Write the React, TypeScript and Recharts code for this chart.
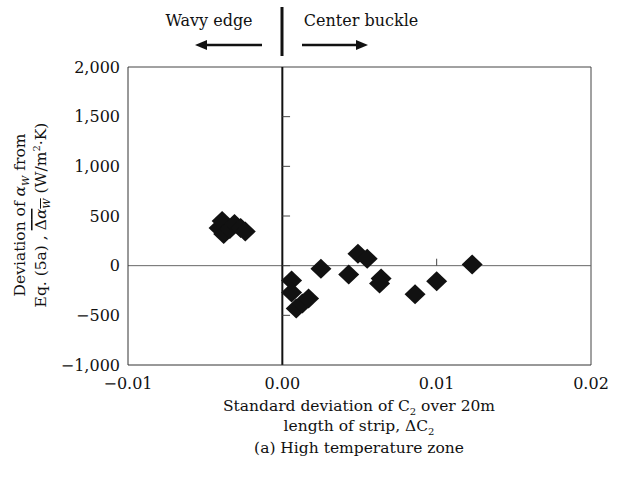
import { ScatterChart, Scatter, XAxis, YAxis, ReferenceLine } from "recharts";

const FONT = "'DejaVu Serif', serif";

const xTicks = [-0.01, 0, 0.01, 0.02];
const yTicks = [-1000, -500, 0, 500, 1000, 1500, 2000];

// wavy edge side (left of zero)
const wavyX = [-0.0041, -0.0039, -0.0038, -0.0034, -0.0031, -0.0027, -0.0024];
const wavyY = [380, 450, 320, 370, 420, 380, 345];

// center buckle side (right of zero)
const centerX = [0.0006, 0.0006, 0.0009, 0.0013, 0.0017, 0.0025, 0.0043, 0.0049, 0.0055, 0.0064, 0.0063, 0.0086, 0.01, 0.0123];
const centerY = [-150, -270, -430, -380, -330, -30, -90, 120, 70, -130, -180, -287, -156, 11];

const points = [
  ...wavyX.map((x, i) => ({ x, y: wavyY[i] })),
  ...centerX.map((x, i) => ({ x, y: centerY[i] })),
];

const fmtX = (v: number) => (v < 0 ? "\u2212" : "") + Math.abs(v).toFixed(2);
const fmtY = (v: number) => (v < 0 ? "\u2212" : "") + Math.abs(v).toLocaleString("en-US");

const Diamond = (props: any) => {
  const { cx, cy } = props;
  return (
    <polygon
      points={`${cx},${cy - 10} ${cx + 10.5},${cy} ${cx},${cy + 10} ${cx - 10.5},${cy}`}
      fill="#111"
    />
  );
};

export default function App() {
  return (
    <div style={{ position: "relative", width: 618, height: 479, background: "#fff", fontFamily: FONT }}>
      <style>{`body{margin:0}`}</style>
      <ScatterChart width={618} height={479} margin={{ top: 67, right: 27, bottom: 84, left: 0 }}>
        <XAxis
          type="number"
          dataKey="x"
          domain={[-0.01, 0.02]}
          ticks={xTicks}
          tickFormatter={fmtX}
          tickLine={false}
          tickMargin={7}
          axisLine={{ stroke: "#333" }}
          tick={{ fontSize: 16, fill: "#111", fontFamily: FONT }}
        />
        <YAxis
          type="number"
          dataKey="y"
          domain={[-1000, 2000]}
          ticks={yTicks}
          tickFormatter={fmtY}
          tickLine={false}
          width={128}
          axisLine={{ stroke: "#333" }}
          tick={{ fontSize: 16, fill: "#111", fontFamily: FONT }}
        />
        <ReferenceLine y={2000} stroke="#444" />
        <ReferenceLine x={0.02} stroke="#444" />
        <ReferenceLine y={0} stroke="#666" />
        <ReferenceLine x={0} stroke="#111" strokeWidth={2} />
        {yTicks.filter((t) => t !== -1000 && t !== 2000).map((t) => (
          <ReferenceLine key={t} segment={[{ x: 0, y: t }, { x: 0.0005, y: t }]} stroke="#444" />
        ))}
        <ReferenceLine segment={[{ x: 0.01, y: 0 }, { x: 0.01, y: 70 }]} stroke="#444" />
        <Scatter data={points} shape={<Diamond />} isAnimationActive={false} />
      </ScatterChart>

      <svg width={618} height={479} style={{ position: "absolute", left: 0, top: 0, pointerEvents: "none" }}>
        <g fontFamily={FONT} fill="#111">
          {/* top annotation */}
          <text x={209} y={26} fontSize={16} textAnchor="middle">Wavy edge</text>
          <text x={361} y={26} fontSize={16} textAnchor="middle">Center buckle</text>
          <line x1={282} y1={7} x2={282} y2={56} stroke="#111" strokeWidth={3} />
          <line x1={262} y1={45} x2={204} y2={45} stroke="#111" strokeWidth={2.5} />
          <polygon points="195,45 207,40 207,50" />
          <line x1={302} y1={45} x2={358} y2={45} stroke="#111" strokeWidth={2.5} />
          <polygon points="368,45 356,40 356,50" />

          {/* x axis label */}
          <text x={359} y={411} fontSize={15.5} textAnchor="middle">
            Standard deviation of C<tspan fontSize={10} dy={4}>2</tspan>
            <tspan dy={-4}> over 20m</tspan>
          </text>
          <text x={359} y={431} fontSize={15.5} textAnchor="middle">
            length of strip, ΔC<tspan fontSize={10} dy={4}>2</tspan>
          </text>
          <text x={359} y={453} fontSize={15.5} textAnchor="middle">(a) High temperature zone</text>

          {/* y axis label */}
          <g transform="translate(25,215) rotate(-90)">
            <text x={0} y={0} fontSize={15.5} textAnchor="middle">
              Deviation of <tspan fontStyle="italic">α</tspan>
              <tspan fontSize={10} fontStyle="italic" dy={4}>W</tspan>
              <tspan dy={-4}> from</tspan>
            </text>
            <text x={0} y={21} fontSize={15.5} textAnchor="middle">
              Eq. (5a) ,{" "}
              <tspan style={{ textDecoration: "overline" }}>
                Δ<tspan fontStyle="italic">α</tspan>
                <tspan fontSize={10} fontStyle="italic" dy={4}>W</tspan>
              </tspan>
              <tspan dy={-4}> (W/m</tspan>
              <tspan fontSize={10} dy={-6}>2</tspan>
              <tspan dy={6}>·K)</tspan>
            </text>
          </g>
        </g>
      </svg>
    </div>
  );
}
